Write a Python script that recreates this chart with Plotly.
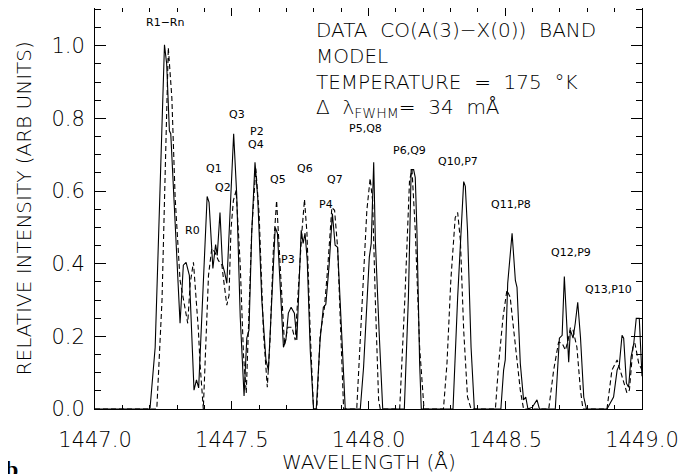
import plotly.graph_objects as go

# ---- data ----
data_wl = [1447.000, 1447.201, 1447.220, 1447.254, 1447.262, 1447.272, 1447.277, 1447.311, 1447.323, 1447.333,
           1447.345, 1447.362, 1447.371, 1447.379, 1447.410, 1447.417, 1447.431, 1447.441, 1447.447, 1447.457,
           1447.466, 1447.474, 1447.482, 1447.507, 1447.518, 1447.531, 1447.545, 1447.555, 1447.563, 1447.573,
           1447.585, 1447.595, 1447.610, 1447.625, 1447.634, 1447.647, 1447.659, 1447.667, 1447.677, 1447.689,
           1447.698, 1447.707, 1447.717, 1447.729, 1447.738, 1447.746, 1447.754, 1447.761, 1447.768, 1447.776,
           1447.787, 1447.799, 1447.809, 1447.823, 1447.835, 1447.844, 1447.856, 1447.868, 1447.878, 1447.887,
           1447.915, 1447.970, 1447.982, 1448.003, 1448.010, 1448.019, 1448.025, 1448.039, 1448.052, 1448.131,
           1448.146, 1448.156, 1448.165, 1448.171, 1448.177, 1448.187, 1448.193, 1448.309, 1448.326, 1448.348,
           1448.354, 1448.362, 1448.375, 1448.387, 1448.484, 1448.494, 1448.500, 1448.509, 1448.525, 1448.537,
           1448.543, 1448.555, 1448.567, 1448.575, 1448.583, 1448.599, 1448.616, 1448.625, 1448.683, 1448.698,
           1448.708, 1448.716, 1448.726, 1448.732, 1448.738, 1448.748, 1448.756, 1448.765, 1448.775, 1448.787,
           1448.797, 1448.872, 1448.896, 1448.909, 1448.917, 1448.927, 1448.933, 1448.943, 1448.951, 1448.960,
           1448.970, 1448.979, 1448.990, 1449.000]
data_int = [0.0, 0.0, 0.170, 1.003, 0.951, 0.766, 0.758, 0.236, 0.396, 0.404,
            0.368, 0.052, 0.080, 0.058, 0.585, 0.569, 0.387, 0.453, 0.423, 0.541,
            0.398, 0.376, 0.346, 0.758, 0.593, 0.253, 0.036, 0.195, 0.217, 0.484,
            0.679, 0.582, 0.299, 0.135, 0.107, 0.299, 0.500, 0.484, 0.346, 0.170,
            0.190, 0.264, 0.280, 0.264, 0.190, 0.354, 0.492, 0.456, 0.484, 0.409,
            0.162, 0.0, 0.0, 0.190, 0.280, 0.288, 0.396, 0.538, 0.451, 0.445,
            0.0, 0.0, 0.115, 0.418, 0.456, 0.679, 0.464, 0.209, 0.0, 0.0,
            0.308, 0.659, 0.659, 0.637, 0.492, 0.126, 0.0, 0.0, 0.308, 0.626,
            0.613, 0.492, 0.170, 0.0, 0.0, 0.107, 0.135, 0.346, 0.484, 0.354,
            0.335, 0.126, 0.025, 0.033, 0.0, 0.005, 0.025, 0.0, 0.0, 0.195,
            0.203, 0.365, 0.217, 0.129, 0.217, 0.195, 0.236, 0.294, 0.198, 0.033,
            0.0, 0.0, 0.033, 0.107, 0.121, 0.203, 0.195, 0.071, 0.060, 0.143,
            0.181, 0.250, 0.250, 0.090]

model_wl = [1447.000, 1447.226, 1447.245, 1447.268, 1447.281, 1447.293, 1447.311, 1447.326, 1447.339, 1447.348,
            1447.360, 1447.378, 1447.384, 1447.396, 1447.415, 1447.427, 1447.439, 1447.451, 1447.464, 1447.469,
            1447.482, 1447.490, 1447.497, 1447.506, 1447.516, 1447.531, 1447.543, 1447.553, 1447.561, 1447.573,
            1447.588, 1447.600, 1447.616, 1447.630, 1447.640, 1447.652, 1447.664, 1447.673, 1447.683, 1447.693,
            1447.705, 1447.720, 1447.732, 1447.744, 1447.756, 1447.766, 1447.775, 1447.787, 1447.799, 1447.811,
            1447.823, 1447.839, 1447.851, 1447.866, 1447.876, 1447.887, 1447.909, 1447.957, 1447.976, 1447.994,
            1448.006, 1448.015, 1448.025, 1448.037, 1448.043, 1448.114, 1448.133, 1448.150, 1448.159, 1448.171,
            1448.187, 1448.203, 1448.274, 1448.287, 1448.301, 1448.317, 1448.326, 1448.336, 1448.348, 1448.362,
            1448.375, 1448.464, 1448.476, 1448.492, 1448.506, 1448.518, 1448.531, 1448.543, 1448.555, 1448.567,
            1448.659, 1448.677, 1448.695, 1448.708, 1448.720, 1448.730, 1448.738, 1448.748, 1448.762, 1448.775,
            1448.784, 1448.872, 1448.890, 1448.909, 1448.927, 1448.945, 1448.954, 1448.967, 1448.974, 1448.988,
            1449.000]
model_int = [0.0, 0.0, 0.300, 0.995, 0.857, 0.582, 0.354, 0.291, 0.236, 0.346,
             0.404, 0.217, 0.126, 0.0, 0.368, 0.442, 0.431, 0.409, 0.396, 0.363,
             0.286, 0.313, 0.492, 0.574, 0.602, 0.396, 0.148, 0.044, 0.209, 0.492,
             0.662, 0.538, 0.209, 0.060, 0.190, 0.437, 0.574, 0.451, 0.299, 0.176,
             0.225, 0.225, 0.190, 0.346, 0.484, 0.577, 0.484, 0.209, 0.0, 0.0,
             0.203, 0.280, 0.390, 0.555, 0.547, 0.445, 0.0, 0.0, 0.299, 0.547,
             0.635, 0.574, 0.299, 0.025, 0.0, 0.0, 0.305, 0.629, 0.659, 0.492,
             0.170, 0.0, 0.0, 0.126, 0.354, 0.527, 0.541, 0.464, 0.217, 0.033,
             0.0, 0.0, 0.126, 0.253, 0.327, 0.308, 0.217, 0.126, 0.052, 0.0,
             0.0, 0.107, 0.184, 0.181, 0.162, 0.190, 0.223, 0.217, 0.170, 0.052,
             0.0, 0.0, 0.107, 0.135, 0.088, 0.044, 0.052, 0.170, 0.181, 0.126,
             0.107]

line_labels = ["R1\u2212Rn", "Q3", "P2", "Q4", "Q1", "Q2", "Q5", "Q6", "Q7", "P4", "R0", "P3",
               "P5,Q8", "P6,Q9", "Q10,P7", "Q11,P8", "Q12,P9", "Q13,P10"]
label_wl = [1447.256, 1447.518, 1447.592, 1447.587, 1447.435, 1447.467, 1447.668, 1447.768, 1447.878,
            1447.845, 1447.357, 1447.707, 1447.990, 1448.149, 1448.329, 1448.521, 1448.740, 1448.876]
label_int = [1.063, 0.812, 0.765, 0.729, 0.662, 0.611, 0.632, 0.662, 0.632,
             0.563, 0.492, 0.412, 0.773, 0.713, 0.682, 0.563, 0.430, 0.330]

NB = "\u00a0"
info_lines = ["DATA" + NB + " CO(A(3)\u2212X(0))" + NB + " BAND",
              "MODEL",
              "TEMPERATURE" + NB + " =" + NB + " 175" + NB + " \u00b0K",
              "\u0394" + NB + " \u03bb<sub>FWHM</sub>=" + NB + " 34" + NB + " m\u00c5"]

x_ticks = [1447.0, 1447.5, 1448.0, 1448.5, 1449.0]
y_ticks = [0.0, 0.2, 0.4, 0.6, 0.8, 1.0]

FONT = "DejaVu Sans"
INK = "#000000"

fig = go.Figure()
fig.add_trace(go.Scatter(x=data_wl, y=data_int, mode="lines",
                         line=dict(color="black", width=1.1), showlegend=False))
fig.add_trace(go.Scatter(x=model_wl, y=model_int, mode="lines",
                         line=dict(color="black", width=1.1, dash="5px,3px"), showlegend=False))

annotations = []
for t, xv, yv in zip(line_labels, label_wl, label_int):
    annotations.append(dict(x=xv, y=yv, xref="x", yref="y", text=t, showarrow=False,
                            font=dict(family=FONT, size=11, color=INK)))

info_y = [0.946, 0.881, 0.816, 0.750]
for t, yv in zip(info_lines, info_y):
    annotations.append(dict(x=0.401, y=yv, xref="paper", yref="paper", text=t, showarrow=False,
                            xanchor="left", yanchor="middle",
                            font=dict(family=FONT, size=20, color=INK, weight=200)))

annotations.append(dict(x=0.5, y=-0.132, xref="paper", yref="paper", text="WAVELENGTH (\u00c5)",
                        showarrow=False, xanchor="center", yanchor="middle",
                        font=dict(family=FONT, size=20, color=INK, weight=200)))
annotations.append(dict(x=-0.13, y=0.5, xref="paper", yref="paper",
                        text="RELATIVE INTENSITY (ARB UNITS)", textangle=-90,
                        showarrow=False, xanchor="center", yanchor="middle",
                        font=dict(family=FONT, size=20, color=INK, weight=200)))
annotations.append(dict(x=-0.152, y=-0.15, xref="paper", yref="paper", text="<b>b</b>",
                        showarrow=False, xanchor="center", yanchor="middle",
                        font=dict(family="Liberation Serif", size=24, color="black")))

# The page body adds an 8px offset; margins compensate so the frame sits at
# x 95..642, y 8..409 in the screenshot.
fig.update_layout(
    width=696, height=474,
    margin=dict(l=87, r=62, t=0, b=73),
    paper_bgcolor="white", plot_bgcolor="white",
    annotations=annotations,
    xaxis=dict(range=[1447.0, 1449.0], tickvals=x_ticks, tickformat=".1f",
               ticks="inside", ticklen=8, tickwidth=1, tickcolor="black",
               minor=dict(dtick=0.1, ticks="inside", ticklen=4, tickwidth=1, tickcolor="black"),
               showline=True, linecolor="black", linewidth=1, mirror="allticks",
               showgrid=False, zeroline=False, ticklabelstandoff=12,
               tickfont=dict(family=FONT, size=21, color=INK, weight=200)),
    yaxis=dict(range=[0.0, 1.104], tickvals=y_ticks, tickformat=".1f",
               ticks="inside", ticklen=11, tickwidth=1, tickcolor="black",
               minor=dict(dtick=0.05, ticks="inside", ticklen=6, tickwidth=1, tickcolor="black"),
               showline=True, linecolor="black", linewidth=1, mirror="allticks",
               showgrid=False, zeroline=False, ticklabelstandoff=5,
               tickfont=dict(family=FONT, size=21, color=INK, weight=200)),
)

fig.write_html("out.html")
